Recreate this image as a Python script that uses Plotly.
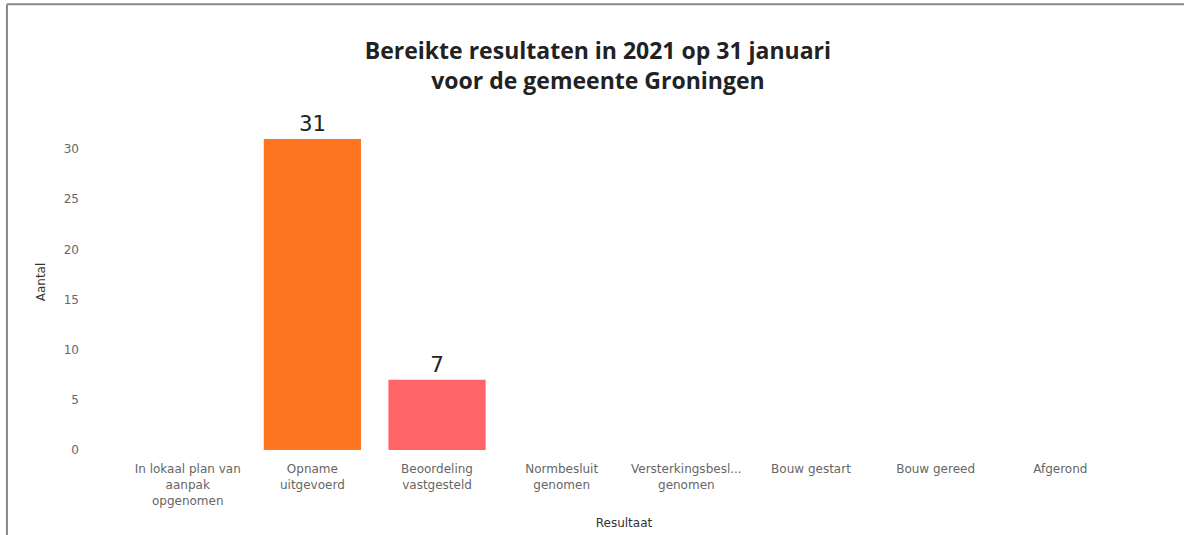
import plotly.graph_objects as go

# categorieën en waarden
resultaten = [
    "In lokaal plan van<br>aanpak<br>opgenomen",
    "Opname<br>uitgevoerd",
    "Beoordeling<br>vastgesteld",
    "Normbesluit<br>genomen",
    "Versterkingsbesl...<br>genomen",
    "Bouw gestart",
    "Bouw gereed",
    "Afgerond",
]
aantal = [0, 31, 7, 0, 0, 0, 0, 0]
labels = ["", "31", "7", "", "", "", "", ""]
kleuren = ["#FF7420", "#FF7420", "#FF6469", "#FF7420", "#FF7420", "#FF7420", "#FF7420", "#FF7420"]

fig = go.Figure(
    go.Bar(
        x=resultaten,
        y=aantal,
        text=labels,
        textposition="outside",
        textfont=dict(family="DejaVu Sans Mono", size=22, color="#222"),
        marker=dict(color=kleuren, line=dict(width=0)),
        cliponaxis=False,
        hoverinfo="x+y",
    )
)

fig.update_layout(
    width=1184,
    height=535,
    margin=dict(l=88, r=24, t=114, b=85),
    paper_bgcolor="white",
    plot_bgcolor="white",
    bargap=0.22,
    showlegend=False,
    title=dict(
        text="<b>Bereikte resultaten in 2021 op 31 januari<br>voor de gemeente Groningen</b>",
        font=dict(family="Open Sans", size=23, color="#222"),
        x=0.505,
        xanchor="center",
        y=0.89,
        yanchor="middle",
    ),
    xaxis=dict(
        range=[-0.8, 7.8],
        automargin=False,
        showgrid=False,
        showline=False,
        zeroline=False,
        tickangle=0,
        ticks="outside",
        ticklen=8,
        tickcolor="rgba(0,0,0,0)",
        tickfont=dict(family="DejaVu Sans", size=12, color="#666"),
        title=dict(text="Resultaat", font=dict(family="DejaVu Sans", size=12, color="#333"), standoff=12),
    ),
    yaxis=dict(
        range=[0, 33.5],
        automargin=False,
        tickvals=[0, 5, 10, 15, 20, 25, 30],
        showgrid=False,
        showline=False,
        zeroline=False,
        tickfont=dict(family="DejaVu Sans", size=12, color="#666"),
        ticklabelstandoff=8,
        title=dict(text="Aantal", font=dict(family="DejaVu Sans", size=12, color="#333"), standoff=15),
    ),
    # grijze rand van de schermafbeelding
    shapes=[
        dict(type="line", xref="paper", yref="paper", x0=-0.0756, x1=1.03, y0=1.327, y1=1.327,
             line=dict(color="#888", width=2)),
        dict(type="line", xref="paper", yref="paper", x0=-0.0756, x1=-0.0756, y0=1.327, y1=-0.26,
             line=dict(color="#888", width=2)),
    ],
)

# geen marge om de pagina, zodat de figuur op 0,0 begint
fig.write_html(
    "out.html",
    config={"displayModeBar": False},
    post_script="document.body.style.margin='0';",
)
